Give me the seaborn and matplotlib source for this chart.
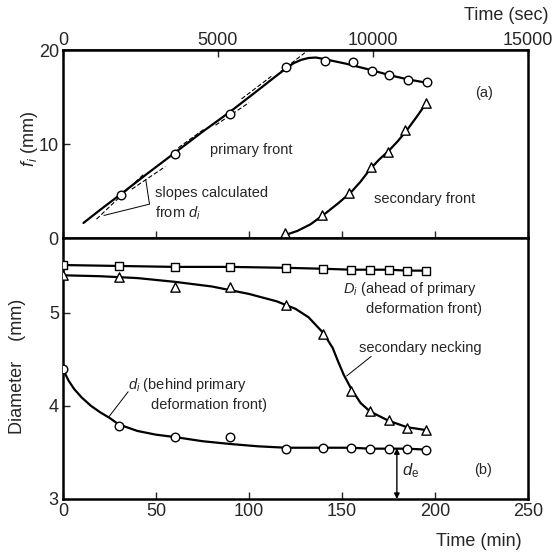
import matplotlib
matplotlib.use("Agg")
import matplotlib.pyplot as plt
import seaborn as sns

sns.set_theme(style="white")
plt.rcParams['font.family'] = ['Liberation Sans', 'DejaVu Sans']
plt.rcParams['mathtext.fontset'] = 'custom'
plt.rcParams['mathtext.it'] = 'Liberation Sans:italic'
plt.rcParams['mathtext.rm'] = 'Liberation Sans'

# ---------------- data (a): front positions f_i (mm) vs time (min) ----------------
prim_t = [31, 60, 90, 120, 141, 156, 166, 175.5, 185.5, 195.5]
prim_f = [4.6, 8.95, 13.15, 18.15, 18.8, 18.7, 17.8, 17.3, 16.8, 16.6]
prim_curve_t = [11, 20, 31, 45, 60, 75, 90, 105, 115, 120, 124, 128, 132, 136, 140, 146, 152, 158, 166, 176, 186, 196]
prim_curve_f = [1.6, 3.0, 4.65, 6.8, 9.05, 11.3, 13.45, 15.75, 17.3, 18.05, 18.6, 18.95, 19.15, 19.2, 19.05, 18.8, 18.55, 18.25, 17.85, 17.3, 16.85, 16.5]

sec_t = [119.5, 139, 154, 165.5, 174.5, 184, 195.3]
sec_f = [0.5, 2.45, 4.75, 7.6, 9.2, 11.5, 14.4]
sec_curve_t = [120, 126, 133, 140, 148, 155, 160, 165, 170, 175, 180, 185, 190, 195.3]
sec_curve_f = [0.35, 0.75, 1.45, 2.45, 3.7, 4.9, 6.0, 7.3, 8.35, 9.25, 10.3, 11.5, 12.85, 14.35]

# dashed tangent segments ("slopes calculated from d_i")
tan_t0 = [18, 37, 62, 82, 96, 117]
tan_t1 = [44, 55, 76, 100, 112, 130]
tan_f0 = [2.0, 5.2, 9.6, 12.0, 14.8, 17.7]
tan_f1 = [6.9, 7.6, 11.6, 14.4, 17.2, 19.7]

# leader for "slopes calculated"
lead_a_t = [44.5, 46.5, 22]
lead_a_f = [6.2, 3.6, 2.4]

# ---------------- data (b): diameters (mm) vs time (min) ----------------
b_t = [0, 30, 60, 90, 120, 140, 155, 165, 175, 185, 195]
D_i = [5.51, 5.50, 5.49, 5.49, 5.48, 5.47, 5.46, 5.46, 5.46, 5.45, 5.45]
neck = [5.40, 5.38, 5.27, 5.27, 5.08, 4.77, 4.16, 3.94, 3.85, 3.76, 3.74]
d_i = [4.39, 3.78, 3.67, 3.67, 3.54, 3.55, 3.55, 3.54, 3.54, 3.54, 3.53]

neck_curve_t = [0, 20, 40, 60, 80, 100, 115, 125, 132, 140, 145, 148, 151, 155, 160, 165, 175, 185, 195]
neck_curve_y = [5.40, 5.39, 5.37, 5.33, 5.28, 5.20, 5.12, 5.04, 4.95, 4.78, 4.62, 4.47, 4.33, 4.18, 4.03, 3.94, 3.84, 3.77, 3.74]
di_curve_t = [0, 3, 6, 10, 15, 20, 25, 30, 40, 50, 60, 75, 90, 105, 120, 140, 155, 165, 175, 185, 195]
di_curve_y = [4.39, 4.27, 4.18, 4.09, 4.00, 3.93, 3.87, 3.80, 3.73, 3.69, 3.665, 3.62, 3.59, 3.565, 3.55, 3.55, 3.55, 3.54, 3.54, 3.54, 3.53]

d_e_t = 179.5
d_e_y = 3.545

sec_ticks = [0, 5000, 10000, 15000]
min_ticks = [0, 50, 100, 150, 200, 250]

# ---------------- figure ----------------
W, H = 552, 557
fig = plt.figure(figsize=(W / 100, H / 100), dpi=100)
L, R = 63 / W, 528 / W
axa = fig.add_axes([L, 1 - 238 / H, R - L, (238 - 50) / H])
axb = fig.add_axes([L, 1 - 499 / H, R - L, (499 - 238) / H])

lw_curve = 1.6
mk = dict(facecolor='white', edgecolor='black', linewidth=1.0, zorder=5)
ann = 10.5
tickfs = 13

# ----- panel (a) -----
sns.lineplot(x=prim_curve_t, y=prim_curve_f, ax=axa, color='black', lw=lw_curve, sort=False)
sns.lineplot(x=sec_curve_t, y=sec_curve_f, ax=axa, color='black', lw=lw_curve, sort=False)
for t0, t1, f0, f1 in zip(tan_t0, tan_t1, tan_f0, tan_f1):
    axa.plot([t0, t1], [f0, f1], color='black', lw=0.8, ls=(0, (4, 2)))
axa.plot(lead_a_t, lead_a_f, color='black', lw=0.7)
sns.scatterplot(x=prim_t, y=prim_f, ax=axa, marker='o', s=38, **mk)
sns.scatterplot(x=sec_t, y=sec_f, ax=axa, marker='^', s=45, **mk)

axa.text(79, 9.4, 'primary front', fontsize=ann, va='center', ha='left')
axa.text(49.5, 3.6, 'slopes calculated\nfrom $d_i$', fontsize=ann, va='center', ha='left', linespacing=1.4)
axa.text(167, 4.2, 'secondary front', fontsize=ann, va='center', ha='left')
axa.text(226.5, 15.4, '(a)', fontsize=ann, va='center', ha='center')

axa.set_xlim(0, 250)
axa.set_ylim(0, 20)
axa.set_yticks([0, 10, 20])
axa.set_yticklabels(['0', '10', '20'], fontsize=tickfs)
axa.set_xticks(min_ticks)
axa.tick_params(axis='x', direction='in', length=5, width=1, labelbottom=False, bottom=True)
axa.tick_params(axis='y', direction='in', length=5, width=1, left=True, pad=3)
axa.set_xlabel('')
axa.set_ylabel('')

sec = axa.secondary_xaxis('top', functions=(lambda m: m * 60, lambda s: s / 60))
sec.set_xticks(sec_ticks)
sec.set_xticklabels([str(v) for v in sec_ticks], fontsize=tickfs)
sec.tick_params(direction='in', length=5, width=1, pad=1)

# ----- panel (b) -----
sns.lineplot(x=b_t, y=D_i, ax=axb, color='black', lw=lw_curve)
sns.lineplot(x=neck_curve_t, y=neck_curve_y, ax=axb, color='black', lw=lw_curve, sort=False)
sns.lineplot(x=di_curve_t, y=di_curve_y, ax=axb, color='black', lw=lw_curve, sort=False)
sns.scatterplot(x=b_t, y=D_i, ax=axb, marker='s', s=36, **mk)
sns.scatterplot(x=b_t, y=neck, ax=axb, marker='^', s=45, **mk)
sns.scatterplot(x=b_t, y=d_i, ax=axb, marker='o', s=38, **mk)

axb.annotate('', xy=(d_e_t, 3.0), xytext=(d_e_t, d_e_y),
             arrowprops=dict(arrowstyle='<|-|>', color='black', lw=1.0, mutation_scale=8,
                             shrinkA=0, shrinkB=0))
axb.text(182, 3.30, '$d_\\mathrm{e}$', fontsize=12, va='center', ha='left')
axb.text(226, 3.31, '(b)', fontsize=ann, va='center', ha='center')

axb.text(150.5, 5.25, '$D_i$ (ahead of primary', fontsize=ann, va='center', ha='left')
axb.text(163, 5.04, 'deformation front)', fontsize=ann, va='center', ha='left')
axb.text(159, 4.62, 'secondary necking', fontsize=ann, va='center', ha='left')
axb.plot([152.5, 165.7], [4.32, 4.53], color='black', lw=0.7)
axb.text(35, 4.225, '$d_i$ (behind primary', fontsize=ann, va='center', ha='left')
axb.text(47.3, 4.01, 'deformation front)', fontsize=ann, va='center', ha='left')
axb.plot([24.6, 35], [3.88, 4.15], color='black', lw=0.7)

axb.set_xlim(0, 250)
axb.set_ylim(3, 5.8)
axb.set_xticks(min_ticks)
axb.set_xticklabels([str(v) for v in min_ticks], fontsize=tickfs)
axb.set_yticks([3, 4, 5])
axb.set_yticklabels(['3', '4', '5'], fontsize=tickfs)
axb.tick_params(axis='both', direction='in', length=5, width=1, bottom=True, left=True, pad=3)
axb.set_xlabel('')
axb.set_ylabel('')

for ax in (axa, axb):
    for sp in ax.spines.values():
        sp.set_visible(True)
        sp.set_color('black')
        sp.set_linewidth(1.8)
    ax.grid(False)
    ax.set_facecolor('white')

fig.text(548 / W, 1 - 15 / H, 'Time (sec)', fontsize=13, ha='right', va='center')
fig.text(522 / W, 1 - 541 / H, 'Time (min)', fontsize=13, ha='right', va='center')
fig.text(18 / W, 1 - 366 / H, 'Diameter    (mm)', fontsize=13, ha='center', va='center', rotation=90)
fig.text(29 / W, 1 - 139 / H, '$f_i$ (mm)', fontsize=13, ha='center', va='center', rotation=90)

fig.savefig('out.png', dpi=100, facecolor='white')
